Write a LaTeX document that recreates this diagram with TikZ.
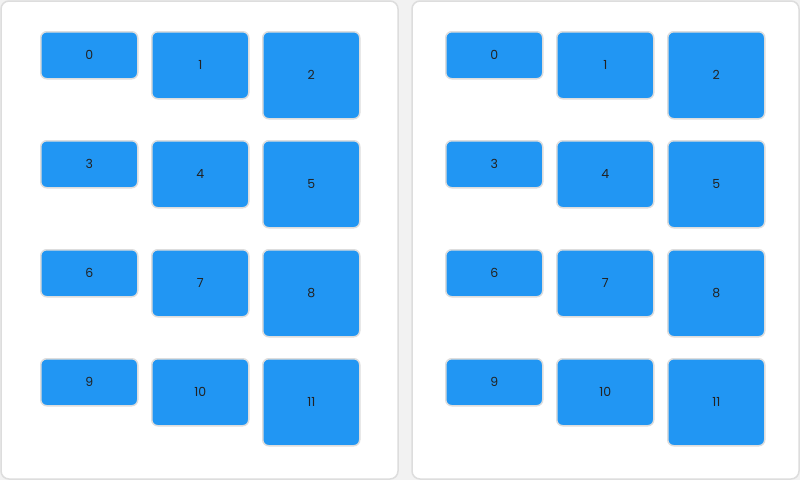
\documentclass[tikz,border=0pt]{standalone}
\usepackage{fontspec}
\setmainfont{Poppins}
\definecolor{boxblue}{HTML}{2196F3}
\definecolor{rimgray}{HTML}{DDDDDD}
\definecolor{pagegray}{HTML}{F2F2F2}
\definecolor{digit}{HTML}{222222}
\tikzset{
  panel/.style={draw=rimgray, line width=1.5pt, fill=white, rounded corners=8pt},
  tile/.style={draw=rimgray, line width=1.5pt, fill=boxblue, rounded corners=6pt,
    minimum width=97pt, inner sep=0pt, text=digit, font=\fontsize{12.5}{14}\selectfont},
  small/.style={tile, minimum height=47pt},
  medium/.style={tile, minimum height=67pt},
  large/.style={tile, minimum height=87pt}
}
\begin{document}
\begin{tikzpicture}[x=1pt,y=-1pt]
  \useasboundingbox[fill=pagegray] (0,0) rectangle (800,480);
  \draw[panel] (1,1) rectangle (398,479);
  \draw[panel] (412,1) rectangle (799,479);
  % left and right grids
  \foreach \side/\xo in {L/40, R/445}{
    \foreach \row in {0,...,3}{
      \pgfmathtruncatemacro{\a}{3*\row}
      \pgfmathtruncatemacro{\b}{3*\row+1}
      \pgfmathtruncatemacro{\c}{3*\row+2}
      \node[small, anchor=north west] (\side\a) at (\xo, 31+109*\row) {\a};
      \node[medium, anchor=north west] (\side\b) at (\xo+111, 31+109*\row) {\b};
      \node[large, anchor=north west] (\side\c) at (\xo+222, 31+109*\row) {\c};
    }
  }
\end{tikzpicture}
\end{document}
